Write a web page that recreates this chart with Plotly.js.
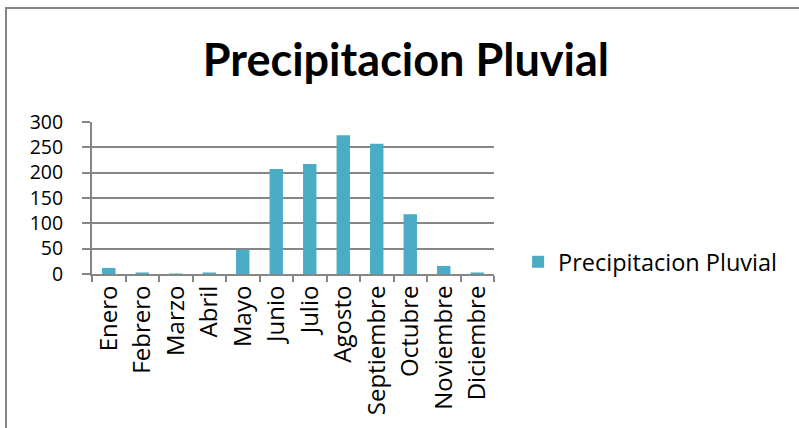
<!DOCTYPE html>
<html><head><meta charset="utf-8">
<script src="https://cdn.plot.ly/plotly-3.0.1.min.js"></script>
<style>
html,body{margin:0;padding:0;background:#fff;overflow:hidden;}
#chart{position:absolute;left:0;top:0;width:799px;height:428px;}
#frame{position:absolute;left:5px;top:7px;width:820px;height:440px;border:2px solid #868686;pointer-events:none;}
</style></head>
<body>
<div id="chart"></div>
<div id="frame"></div>
<script>
const months = ["Enero","Febrero","Marzo","Abril","Mayo","Junio","Julio","Agosto","Septiembre","Octubre","Noviembre","Diciembre"];
const precip = [12, 3, 1, 3, 48, 207, 217, 274, 257, 118, 16, 3];
const yTicks = [0, 50, 100, 150, 200, 250, 300];
const seriesName = "Precipitacion Pluvial";
const chartTitle = "Precipitacion Pluvial";

const fontFam = "'Open Sans', sans-serif";
const titleFam = "Lato, 'Open Sans', sans-serif";
Plotly.newPlot("chart", [{
  type: "bar",
  x: months,
  y: precip,
  name: seriesName,
  marker: {color: "#4BACC6"},
  showlegend: true
}], {
  width: 799, height: 428,
  margin: {l: 92, r: 305, t: 122, b: 154, pad: 0},
  paper_bgcolor: "rgba(0,0,0,0)",
  plot_bgcolor: "rgba(0,0,0,0)",
  title: {text: "<b>" + chartTitle + "</b>", font: {family: titleFam, size: 45, color: "#000"}, x: 0.508, xanchor: "center", y: 0.86, yanchor: "middle"},
  bargap: 0.6,
  font: {family: fontFam, size: 23, color: "#000"},
  xaxis: {
    type: "category",
    tickangle: -90,
    tickson: "boundaries",
    ticks: "outside", ticklen: 6, tickwidth: 2, tickcolor: "#868686",
    showline: true, linecolor: "#868686", linewidth: 2,
    showgrid: false,
    tickfont: {family: fontFam, size: 24, color: "#000"}
  },
  yaxis: {
    range: [0, 300],
    tickvals: yTicks,
    ticks: "outside", ticklen: 8, tickwidth: 2, tickcolor: "#868686",
    ticklabelstandoff: 15,
    showline: true, linecolor: "#868686", linewidth: 2,
    showgrid: true, gridcolor: "#868686", gridwidth: 2,
    zeroline: false,
    tickfont: {family: fontFam, size: 19.5, color: "#000"}
  },
  legend: {x: 1.06, xanchor: "left", y: 0.079, yanchor: "middle", font: {family: fontFam, size: 23.5, color: "#000"}, bgcolor: "rgba(0,0,0,0)"}
}, {displayModeBar: false, staticPlot: true});
</script>
</body></html>
